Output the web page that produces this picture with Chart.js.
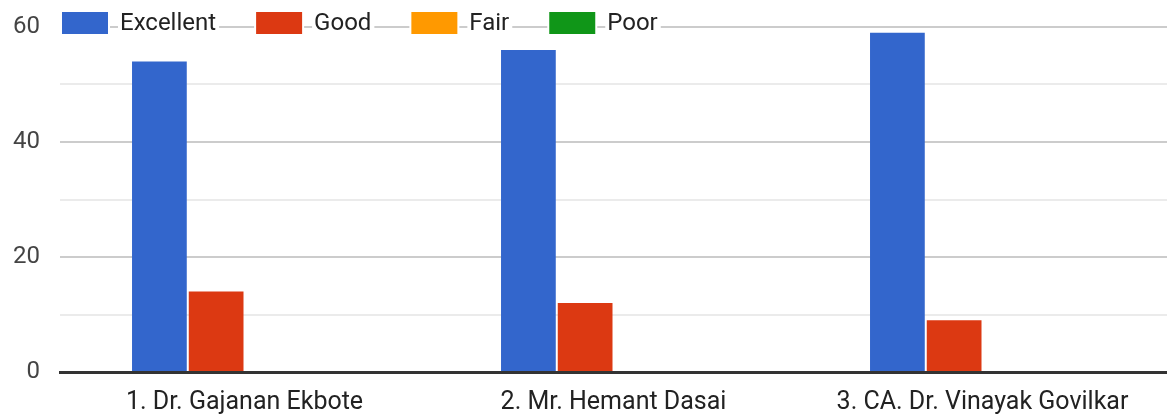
<!DOCTYPE html>
<html>
<head>
<meta charset="utf-8">
<script src="https://cdn.jsdelivr.net/npm/chart.js@4.4.1/dist/chart.umd.min.js"></script>
<style>
  html, body { margin: 0; padding: 0; background: #fff; }
  #wrap { width: 1167px; height: 416px; position: relative; }
</style>
</head>
<body>
<div id="wrap"><canvas id="chart"></canvas></div>
<script>
// chart data
const categories = ['1. Dr. Gajanan Ekbote', '2. Mr. Hemant Dasai', '3. CA. Dr. Vinayak Govilkar'];
const excellent = [54, 56, 59];
const good = [14, 12, 9];
const fair = [0, 0, 0];
const poor = [0, 0, 0];
const yTicks = [0, 20, 40, 60];

const FONT = 'Roboto, "Liberation Sans", Arial, sans-serif';

// legend drawn on top of the plot, over the top gridline (like the original)
const topLegend = {
    id: 'topLegend',
    afterDraw(chart) {
        const ctx = chart.ctx;
        ctx.save();
        ctx.font = '24px ' + FONT;
        ctx.textBaseline = 'middle';
        let x = 62;
        const y = 12, boxW = 46, boxH = 22;
        chart.data.datasets.forEach(ds => {
            const tw = ctx.measureText(ds.label).width;
            // white backing so the gridline only shows between items
            ctx.fillStyle = '#ffffff';
            ctx.fillRect(x - 2, y - 2, boxW + 4, boxH + 4);
            ctx.fillRect(x + boxW + 10, y - 2, tw + 5, boxH + 4);
            ctx.fillStyle = ds.backgroundColor;
            ctx.fillRect(x, y, boxW, boxH);
            ctx.fillStyle = '#222222';
            ctx.fillText(ds.label, x + boxW + 12, y + boxH / 2 + 1);
            x += boxW + 12 + tw + 40;
        });
        ctx.restore();
    }
};

new Chart(document.getElementById('chart'), {
    type: 'bar',
    data: {
        labels: categories,
        datasets: [
            { label: 'Excellent', data: excellent, backgroundColor: '#3366cc' },
            { label: 'Good', data: good, backgroundColor: '#dc3912' },
            { label: 'Fair', data: fair, backgroundColor: '#ff9900' },
            { label: 'Poor', data: poor, backgroundColor: '#109618' }
        ]
    },
    options: {
        responsive: true,
        maintainAspectRatio: false,
        animation: false,
        datasets: {
            bar: { categoryPercentage: 0.615, barPercentage: 0.965, borderWidth: 0 }
        },
        layout: { padding: { top: 27, right: 0, bottom: 0, left: 0 } },
        plugins: {
            legend: { display: false },
            tooltip: { enabled: false }
        },
        scales: {
            x: {
                afterFit(scale) { scale.height = 44; },
                grid: { display: false },
                border: { display: true, color: '#333333', width: 3 },
                ticks: {
                    color: '#222222',
                    font: { family: FONT, size: 25 },
                    padding: 8,
                    maxRotation: 0,
                    autoSkip: false
                }
            },
            y: {
                min: 0,
                max: 60,
                afterFit(scale) { scale.width = 60; },
                border: { display: false },
                grid: {
                    drawTicks: false,
                    lineWidth: 2,
                    color: c => (yTicks.includes(c.tick.value) ? '#cccccc' : '#ebebeb')
                },
                ticks: {
                    stepSize: 10,
                    padding: 20,
                    color: '#444444',
                    font: { family: FONT, size: 24, lineHeight: 0.5 },
                    callback: v => (yTicks.includes(v) ? String(v) : '')
                }
            }
        }
    },
    plugins: [topLegend]
});
</script>
</body>
</html>
